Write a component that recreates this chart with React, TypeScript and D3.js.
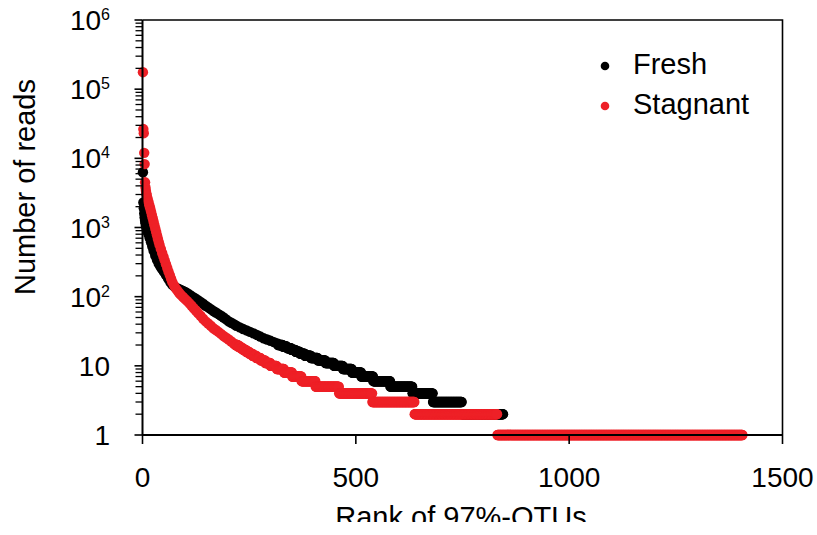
import React, { useRef, useEffect } from 'react';
import * as d3 from 'd3';

// rank-abundance
// top part: [rank, reads]
const freshTop: [number, number][] = [
  [1, 6300], [2, 2300], [3, 1900], [4, 1600], [5, 1400], [6, 1250], [7, 1150], [8, 1050],
  [10, 950], [12, 870], [14, 800], [17, 700], [20, 610], [23, 530], [26, 460], [30, 390],
  [34, 340], [38, 300], [42, 272], [46, 250], [50, 230], [55, 205], [60, 183], [65, 163],
  [70, 148], [75, 140], [80, 134], [85, 129], [90, 125], [95, 121], [100, 117], [106, 111],
  [112, 105], [118, 99], [124, 94], [130, 89], [136, 84], [142, 79], [148, 74], [154, 70],
  [160, 66], [166, 62], [172, 59], [178, 56], [184, 53], [190, 50], [196, 47], [202, 44],
  [208, 42], [214, 40], [220, 38], [228, 36], [236, 34], [244, 32.5], [252, 31], [260, 29.5],
  [268, 28], [276, 26.5], [284, 25], [292, 24], [300, 23], [308, 22], [316, 21],
];
// tail: [reads, first rank, last rank] - every OTU in the run has the same count
const freshRuns: [number, number, number][] = [
  [20, 318, 328], [19, 329, 338], [18, 339, 348], [17, 349, 358], [16, 359, 368],
  [15, 369, 380], [14, 381, 394], [13, 395, 410], [12, 411, 428], [11, 429, 448],
  [10, 449, 469], [9, 470, 490], [8, 491, 512], [7, 513, 540], [6, 541, 580],
  [5, 581, 632], [4, 633, 680], [3, 681, 748], [2, 749, 845],
];

const stagnantTop: [number, number][] = [
  [1, 176000], [2, 26500], [3, 23100], [4, 12000], [5, 8250], [6, 4500], [7, 3800], [8, 3400],
  [9, 3100], [10, 2900], [12, 2600], [14, 2350], [16, 2100], [18, 1900], [20, 1700], [22, 1520],
  [24, 1360], [26, 1210], [28, 1080], [30, 960], [32, 860], [34, 770], [36, 690], [38, 620],
  [40, 560], [43, 490], [46, 430], [49, 380], [52, 335], [55, 295], [58, 260], [61, 230],
  [64, 205], [67, 182], [70, 162], [74, 145], [78, 132], [82, 122], [86, 113], [90, 106],
  [95, 99], [100, 92], [105, 86], [110, 80], [115, 74], [120, 68], [125, 63], [130, 58],
  [136, 53], [142, 48], [148, 44], [154, 41], [160, 38], [166, 35], [172, 33], [178, 31],
  [184, 29], [190, 27], [196, 25.5], [202, 24], [208, 22.5], [214, 21],
];
const stagnantRuns: [number, number, number][] = [
  [20, 218, 223], [19, 224, 229], [18, 230, 235], [17, 236, 242], [16, 243, 249],
  [15, 250, 257], [14, 258, 266], [13, 267, 276], [12, 277, 287], [11, 288, 299],
  [10, 300, 314], [9, 315, 331], [8, 332, 350], [7, 351, 372], [6, 373, 405],
  [5, 406, 460], [4, 461, 538], [3, 539, 637], [2, 638, 831], [1, 832, 1406],
];

const xTicks = [0, 500, 1000, 1500];
const yExponents = [0, 1, 2, 3, 4, 5, 6];

const W = 817;
const H = 535;
const FONT = "'Liberation Sans', Arial, sans-serif";
const RED = '#ee2027';

const toPoints = (top: [number, number][], runs: [number, number, number][]) => {
  const pts = top.map(([rank, reads]) => ({ rank, reads }));
  runs.forEach(([reads, a, b]) => {
    for (let r = a; r <= b; r++) pts.push({ rank: r, reads });
  });
  return pts;
};

const App = () => {
  const svgRef = useRef<SVGSVGElement>(null);

  useEffect(() => {
    const svg = d3.select(svgRef.current);
    svg.selectAll('*').remove();

    const x = d3.scaleLinear().domain([0, 1500]).range([142.5, 782.5]);
    const y = d3.scaleLog().domain([1, 1e6]).range([435, 20]);
    const [x0, x1] = x.range();
    const [yb, yt] = y.range();

    // frame (top + right)
    svg.append('path')
      .attr('d', `M${x0},${yt}H${x1}V${yb}`)
      .attr('fill', 'none').attr('stroke', '#000').attr('stroke-width', 1.6);

    // series
    const series = [
      { pts: toPoints(freshTop, freshRuns), color: '#000' },
      { pts: toPoints(stagnantTop, stagnantRuns), color: RED },
    ];
    series.forEach(s => {
      svg.append('g')
        .selectAll('circle')
        .data(s.pts)
        .join('circle')
        .attr('cx', d => x(d.rank))
        .attr('cy', d => y(d.reads))
        .attr('r', 5.2)
        .attr('fill', s.color);
    });

    // y axis
    const gy = svg.append('g').attr('stroke', '#000');
    gy.append('line').attr('x1', x0).attr('x2', x0).attr('y1', yt).attr('y2', yb)
      .attr('stroke-width', 2);
    yExponents.forEach(e => {
      const v = Math.pow(10, e);
      gy.append('line').attr('x1', x0 - 8).attr('x2', x0).attr('y1', y(v)).attr('y2', y(v))
        .attr('stroke-width', 1.6);
      if (e < 6) {
        for (let m = 2; m <= 9; m++) {
          const mv = m * v;
          gy.append('line').attr('x1', x0 - 7).attr('x2', x0).attr('y1', y(mv)).attr('y2', y(mv))
            .attr('stroke-width', 1.3);
        }
      }
      const t = svg.append('text')
        .attr('x', 110).attr('y', y(v) + 10)
        .attr('text-anchor', 'end')
        .attr('font-family', FONT).attr('font-size', 28).attr('fill', '#000');
      if (e === 0) t.text('1');
      else if (e === 1) t.text('10');
      else {
        t.append('tspan').text('10');
        t.append('tspan').attr('dy', -10).attr('font-size', 16).text(String(e));
      }
    });

    // x axis
    const gx = svg.append('g').attr('stroke', '#000');
    gx.append('line').attr('x1', x0).attr('x2', x1).attr('y1', yb).attr('y2', yb)
      .attr('stroke-width', 2);
    xTicks.forEach(v => {
      gx.append('line').attr('x1', x(v)).attr('x2', x(v)).attr('y1', yb).attr('y2', yb + 9)
        .attr('stroke-width', 1.6);
      svg.append('text')
        .attr('x', x(v)).attr('y', 487)
        .attr('text-anchor', 'middle')
        .attr('font-family', FONT).attr('font-size', 28)
        .text(String(v));
    });

    // axis titles
    svg.append('text')
      .attr('transform', `translate(35,187) rotate(-90)`)
      .attr('text-anchor', 'middle')
      .attr('font-family', FONT).attr('font-size', 29)
      .text('Number of reads');

    svg.append('clipPath').attr('id', 'cut')
      .append('rect').attr('x', 0).attr('y', 0).attr('width', W).attr('height', 522);
    svg.append('text')
      .attr('clip-path', 'url(#cut)')
      .attr('x', 461).attr('y', 527)
      .attr('text-anchor', 'middle')
      .attr('font-family', FONT).attr('font-size', 29)
      .text('Rank of 97%-OTUs');

    // legend
    const legend = [
      { label: 'Fresh', color: '#000', cy: 66 },
      { label: 'Stagnant', color: RED, cy: 106 },
    ];
    legend.forEach(l => {
      svg.append('circle').attr('cx', 605).attr('cy', l.cy).attr('r', 4.3).attr('fill', l.color);
      svg.append('text')
        .attr('x', 633).attr('y', l.cy + 8)
        .attr('font-family', FONT).attr('font-size', 29)
        .text(l.label);
    });
  }, []);

  return (
    <svg ref={svgRef} width={W} height={H}
      style={{ position: 'absolute', left: 0, top: 0, background: '#fff' }} />
  );
};

export default App;
